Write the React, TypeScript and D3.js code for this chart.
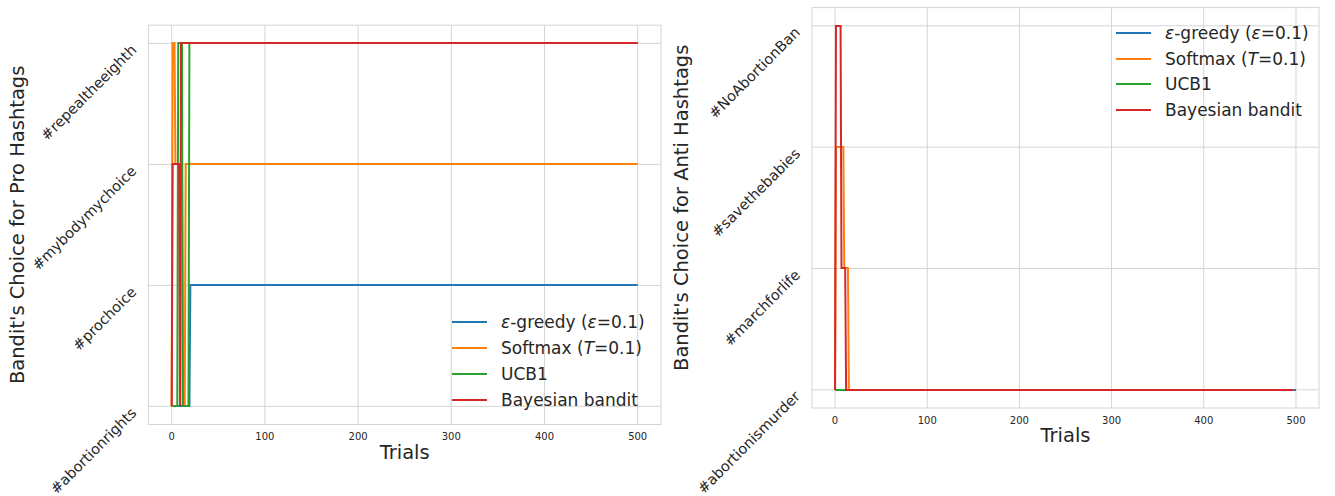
import React from 'react';
import * as d3 from 'd3';

// choice index per trial, only the trials where the pick changes
const proTags = ['#abortionrights', '#prochoice', '#mybodymychoice', '#repealtheeighth'];
const antiTags = ['#abortionismurder', '#marchforlife', '#savethebabies', '#NoAbortionBan'];

const proGreedy = [[0, 0], [19, 0], [20, 1], [500, 1]];
const proSoftmax = [[0, 0], [1, 3], [3, 3], [4, 2], [11, 2], [12, 0], [14, 0], [15, 2], [500, 2]];
const proUcb = [[0, 0], [6, 0], [7, 3], [11, 3], [12, 0], [18, 0], [19, 3], [500, 3]];
const proBayes = [[0, 0], [1, 2], [8, 2], [9, 0], [10, 3], [500, 3]];

const antiGreedy = [[0, 0], [500, 0]];
const antiSoftmax = [[0, 0], [1, 2], [9, 2], [10, 1], [14, 1], [15, 0], [497, 0]];
const antiUcb = [[0, 0], [497, 0]];
const antiBayes = [[0, 0], [1, 3], [6, 3], [7, 1], [11, 1], [12, 0], [497, 0]];

const xTicks = [0, 100, 200, 300, 400, 500];
const colors = ['#1f77b4', '#ff7f0e', '#2ca02c', '#d62728'];
const font = 'DejaVu Sans, sans-serif';
const ink = '#262626';
const grid = '#d4d4d4';

const LegendLabel = ({ i }) => {
  if (i === 0)
    return (
      <>
        <tspan fontStyle="italic">ε</tspan>-greedy (<tspan fontStyle="italic">ε</tspan>=0.1)
      </>
    );
  if (i === 1)
    return (
      <>
        Softmax (<tspan fontStyle="italic">T</tspan>=0.1)
      </>
    );
  if (i === 2) return <>UCB1</>;
  return <>Bayesian bandit</>;
};

const Panel = ({ box, tags, series, ylabel, legendTop, legendOffset }) => {
  const { left, right, top, bottom } = box;
  const x = d3.scaleLinear().domain([-25, 525]).range([left, right]);
  const y = d3.scaleLinear().domain([-0.15, 3.15]).range([bottom, top]);
  // snap levels to whole pixels so the topmost series covers the ones below
  const line = d3
    .line()
    .x((d) => x(d[0]))
    .y((d) => Math.round(y(d[1])));

  const legX = right - legendOffset;
  const legY0 = legendTop ? top + 25 : bottom - 25 - 3 * 25.9;

  return (
    <g fontFamily={font}>
      <rect x={left} y={top} width={right - left} height={bottom - top} fill="white" stroke={grid} />
      {xTicks.map((t) => (
        <line key={'gx' + t} x1={x(t)} x2={x(t)} y1={top} y2={bottom} stroke={grid} />
      ))}
      {tags.map((_, i) => (
        <line key={'gy' + i} x1={left} x2={right} y1={y(i)} y2={y(i)} stroke={grid} />
      ))}
      {series.map((s, i) => (
        <path key={'s' + i} d={line(s)} fill="none" stroke={colors[i]} strokeWidth={2} />
      ))}
      {xTicks.map((t) => (
        <text key={'tx' + t} x={x(t)} y={bottom + 15.5} fontSize={10} fill={ink} textAnchor="middle">
          {t}
        </text>
      ))}
      {tags.map((tag, i) => (
        <text
          key={'ty' + i}
          transform={`translate(${left - 11},${y(i) + 7.5}) rotate(-45)`}
          fontSize={14.5}
          fill={ink}
          textAnchor="end"
        >
          {tag}
        </text>
      ))}
      <text x={(left + right) / 2} y={bottom + 34} fontSize={19.5} fill={ink} textAnchor="middle">
        Trials
      </text>
      <text
        transform={`translate(${left - 124},${(top + bottom) / 2}) rotate(-90)`}
        fontSize={19.5}
        fill={ink}
        textAnchor="middle"
      >
        {ylabel}
      </text>
      {series.map((_, i) => {
        const ly = Math.round(legY0 + i * 25.9);
        return (
          <g key={'lg' + i}>
            <line x1={legX} x2={legX + 35} y1={ly} y2={ly} stroke={colors[i]} strokeWidth={2} />
            <text x={legX + 49} y={ly + 6} fontSize={17} fill={ink}>
              <LegendLabel i={i} />
            </text>
          </g>
        );
      })}
    </g>
  );
};

export default function App() {
  return (
    <svg
      width={1335}
      height={496}
      style={{ position: 'absolute', left: 0, top: 0, background: 'white' }}
    >
      <Panel
        box={{ left: 148.4, right: 661, top: 25.2, bottom: 424.5 }}
        tags={proTags}
        series={[proGreedy, proSoftmax, proUcb, proBayes]}
        ylabel="Bandit's Choice for Pro Hashtags"
        legendTop={false}
        legendOffset={209}
      />
      <Panel
        box={{ left: 812, right: 1319, top: 7.6, bottom: 408 }}
        tags={antiTags}
        series={[antiGreedy, antiSoftmax, antiUcb, antiBayes]}
        ylabel="Bandit's Choice for Anti Hashtags"
        legendTop={true}
        legendOffset={203}
      />
    </svg>
  );
}
